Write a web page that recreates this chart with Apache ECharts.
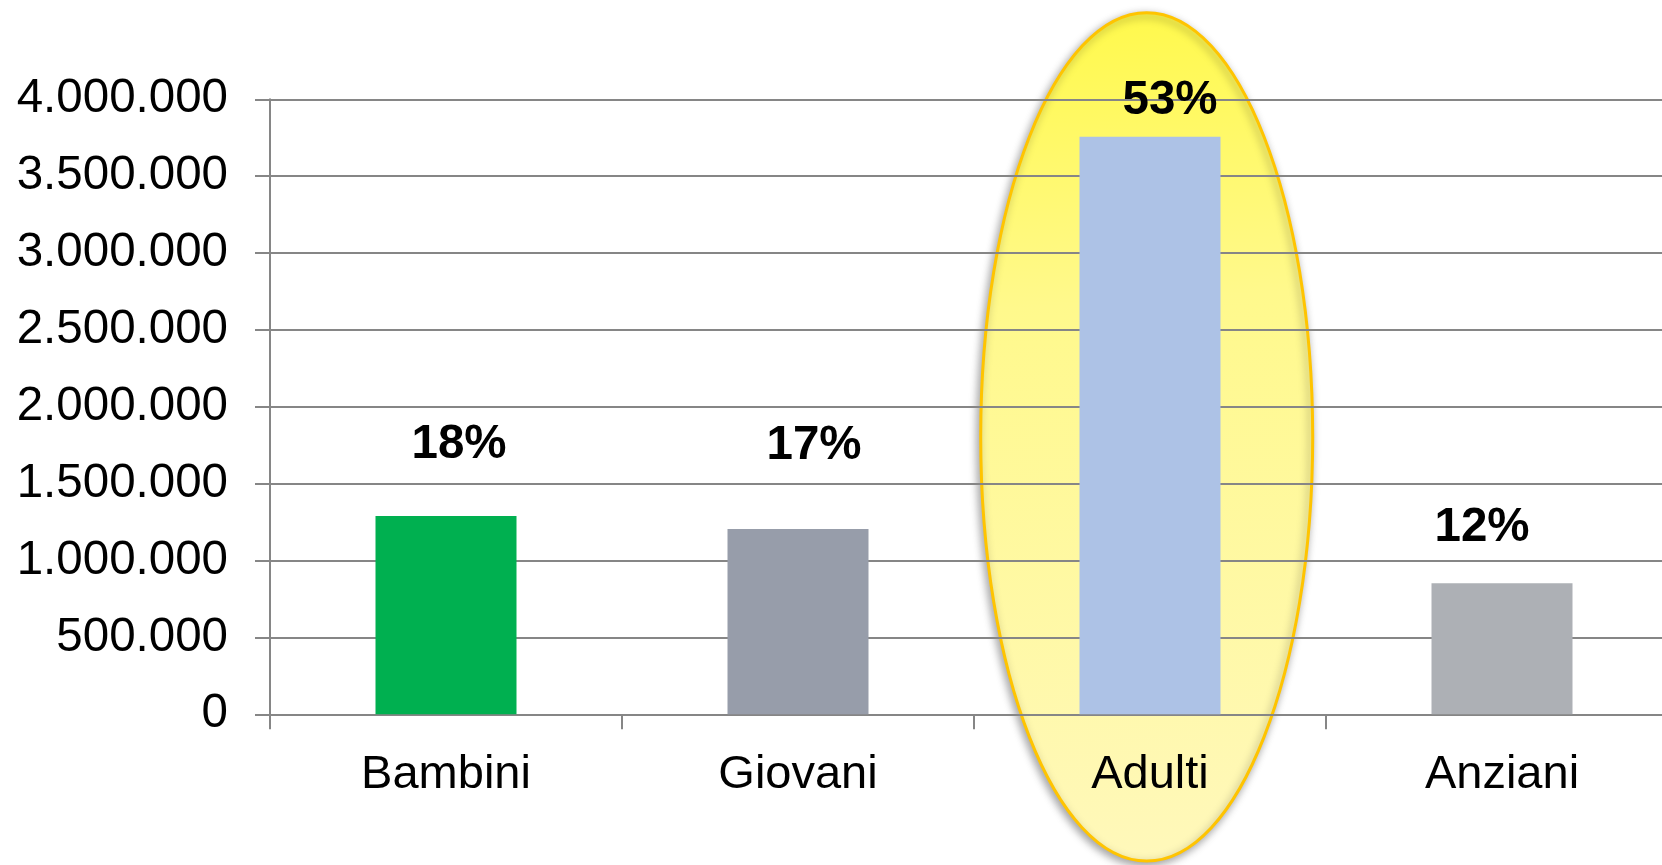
<!DOCTYPE html>
<html>
<head>
<meta charset="utf-8">
<style>
  html, body { margin: 0; padding: 0; background: #ffffff; overflow: hidden; width: 1662px; height: 865px; }
  #chart { width: 1700px; height: 865px; }
</style>
<script src="https://cdn.jsdelivr.net/npm/echarts@6/dist/echarts.min.js"></script>
</head>
<body>
<div id="chart"></div>
<script>
// ---- data ----
const categories = ['Bambini', 'Giovani', 'Adulti', 'Anziani'];
const values = [1290000, 1205000, 3757000, 852000];
const percentLabels = ['18%', '17%', '53%', '12%'];
const yTicks = { min: 0, max: 4000000, interval: 500000 };

// ---- styles ----
const barColors = ['#00B050', '#979DAA', '#ADC2E6', '#ADB0B5'];
const labelShift = [[13, -47], [16, -59], [20, -12], [-20, -31]];
const FONT = '"Liberation Sans", Arial, sans-serif';

function fmtIt(v) {
  return String(v).replace(/\B(?=(\d{3})+(?!\d))/g, '.');
}

const chart = echarts.init(document.getElementById('chart'), null, { renderer: 'canvas' });

const option = {
  backgroundColor: '#ffffff',
  animation: false,
  graphic: [{
    type: 'ellipse',
    z: -10,
    zlevel: 0,
    shape: { cx: 1146.7, cy: 436.9, rx: 166, ry: 424.2 },
    style: {
      fill: new echarts.graphic.LinearGradient(0, 0, 0.15, 1, [
        { offset: 0, color: '#FFF94A' },
        { offset: 0.35, color: '#FFF98C' },
        { offset: 1, color: '#FFF8BA' }
      ]),
      stroke: '#FFC400',
      lineWidth: 3,
      shadowBlur: 8,
      shadowOffsetX: -2,
      shadowOffsetY: 3,
      shadowColor: 'rgba(0,0,0,0.35)'
    }
  }],
  grid: {
    left: 270,
    top: 99.3,
    width: 1408,
    height: 615,
    containLabel: false
  },
  xAxis: {
    type: 'category',
    data: categories,
    axisLine: { show: true, lineStyle: { color: '#868686', width: 2 } },
    axisTick: { show: true, length: 15, lineStyle: { color: '#868686', width: 2 }, alignWithLabel: false },
    axisLabel: {
      color: '#000000',
      fontFamily: FONT,
      fontSize: 47,
      margin: 37
    }
  },
  yAxis: {
    type: 'value',
    min: yTicks.min,
    max: yTicks.max,
    interval: yTicks.interval,
    axisLine: { show: true, lineStyle: { color: '#868686', width: 2 } },
    axisTick: { show: true, length: 15, lineStyle: { color: '#868686', width: 2 } },
    splitLine: { show: true, lineStyle: { color: '#868686', width: 2 } },
    axisLabel: {
      color: '#000000',
      fontFamily: FONT,
      fontSize: 47.5,
      margin: 42,
      padding: [6, 0, 0, 0],
      formatter: fmtIt
    }
  },
  series: [{
    type: 'bar',
    barWidth: 141,
    z: 3,
    data: values.map((v, i) => ({
      value: v,
      itemStyle: { color: barColors[i] },
      label: {
        show: true,
        position: 'top',
        distance: 0,
        offset: labelShift[i],
        formatter: percentLabels[i],
        color: '#000000',
        fontFamily: FONT,
        fontWeight: 'bold',
        fontSize: 47.5
      }
    }))
  }]
};

chart.setOption(option);
</script>
</body>
</html>
